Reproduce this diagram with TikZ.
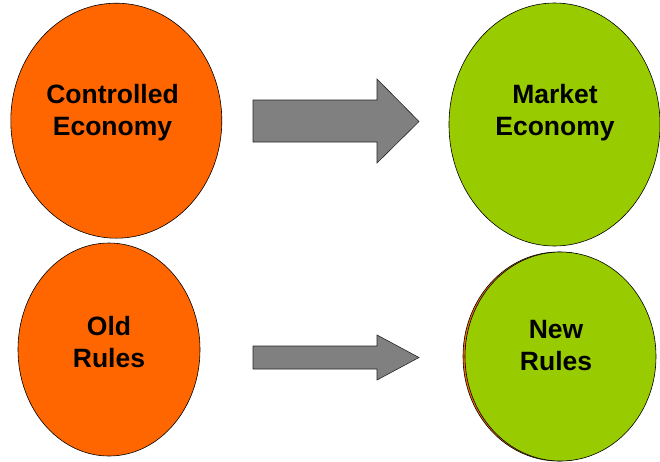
\documentclass[tikz,border=0pt]{standalone}
\usepackage{fontspec}
\setmainfont{Liberation Sans}
\usetikzlibrary{shapes.geometric}
\definecolor{orangeF}{HTML}{FF6600}
\definecolor{greenF}{HTML}{99CC00}
\definecolor{greyF}{HTML}{808080}
\tikzset{
  blob/.style={ellipse, draw=black, line width=0.6pt, inner sep=0pt},
  oldblob/.style={blob, fill=orangeF},
  newblob/.style={blob, fill=greenF},
  lbl/.style={align=center, inner sep=0pt, font=\fontsize{26.5}{32}\selectfont\bfseries},
  bigarrow/.style={draw=black!85, fill=greyF, line width=0.6pt},
}
\begin{document}
\begin{tikzpicture}[x=1pt, y=-1pt]
\useasboundingbox (0,0) rectangle (660,461);
% circles
\node [oldblob, minimum width=211pt, minimum height=235pt] (ce) at (116.3,120.7) {};
\node [newblob, minimum width=211pt, minimum height=243pt] (me) at (554.5,124.5) {};
\node [oldblob, minimum width=182pt, minimum height=213pt] (or) at (109,349.5) {};
\node [oldblob, minimum width=191pt, minimum height=209pt] (nrback) at (558.5,356.5) {};
\node [newblob, minimum width=191pt, minimum height=209pt] (nr) at (560.5,356.5) {};
% texts
\node [lbl] (tce) at (112.5,112.3) {Controlled\\Economy};
\node [lbl] (tme) at (555,112.3) {Market\\Economy};
\node [lbl] (tor) at (109,342.5) {Old\\Rules};
\node [lbl] (tnr) at (556,345.5) {New\\Rules};
% arrows
\draw [bigarrow] (253,100) -- (377,100) -- (377,79) -- (419,121.5)
           -- (377,163) -- (377,142) -- (253,142) -- cycle;
\draw [bigarrow] (253,346) -- (377,346) -- (377,335) -- (419,357.5)
           -- (377,380) -- (377,369) -- (253,369) -- cycle;
\end{tikzpicture}
\end{document}
